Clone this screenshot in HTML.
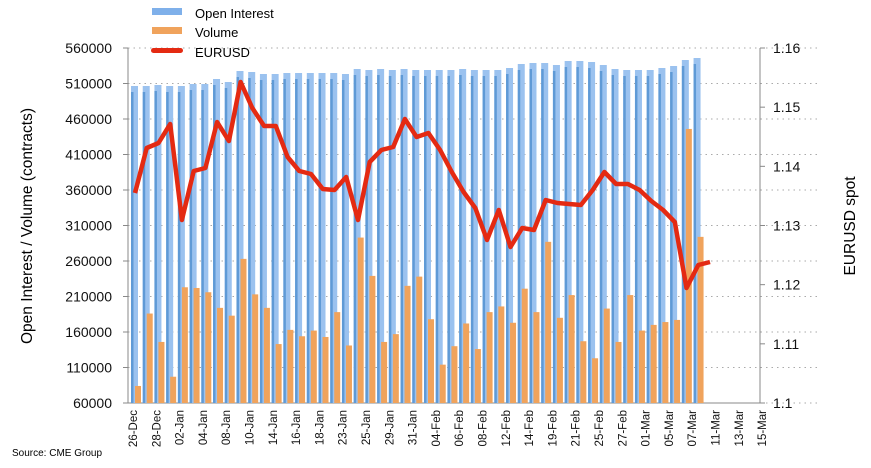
<!DOCTYPE html>
<html><head><meta charset="utf-8"><style>
body{margin:0;background:#fff;}
svg{display:block;font-family:"Liberation Sans",sans-serif;}
</style></head><body>
<svg id="s" width="871" height="468" xmlns="http://www.w3.org/2000/svg"></svg>
<script>
const s=document.getElementById('s');let h='';
const L=128,R=760,T=48,B=403;
const yL=v=>B-(v-60000)/500000*(B-T);
const yR=v=>B-(v-1.10)/0.06*(B-T);
// grid
for(let i=0;i<=10;i++){const y=B-i*(B-T)/10;
 h+=`<line x1="${L}" x2="${R+60}" y1="${y}" y2="${y}" stroke="#aaa" stroke-dasharray="1.5,4" stroke-width="1"/>`;}
h+=`<line x1="${L}" x2="${L}" y1="${T}" y2="${B}" stroke="#888"/>`;
h+=`<line x1="${R}" x2="${R}" y1="${T}" y2="${B}" stroke="#888"/>`;
h+=`<line x1="${L}" x2="${R}" y1="${B}" y2="${B}" stroke="#888"/>`;
for(let i=0;i<=10;i++){const v=60000+i*50000,y=yL(v);
 h+=`<line x1="${L-5}" x2="${L}" y1="${y}" y2="${y}" stroke="#888"/><text x="${L-16}" y="${y+5}" font-size="14" text-anchor="end" fill="#111">${v}</text>`;}
for(let i=0;i<=6;i++){const v=1.1+i*0.01,y=yR(v);
 h+=`<line x1="${R}" x2="${R+5}" y1="${y}" y2="${y}" stroke="#888"/><text x="${R+13}" y="${y+5}" font-size="14" fill="#111">${(v).toFixed(i==0?1:2).replace(/0$/,i==0?'':'0')}</text>`;}
const oiPx=[86,86,85,86,86,84,84,79,82,71,72,74,74,73,73,73,73,73,74,69,70,69,70,69,70,70,70,70,69,70,70,70,68,64,63,63,65,61,61,62,65,69,70,70,70,68,66,60,58,56,59];
const vol=[84000,186000,146000,97000,223000,222000,216000,194000,183000,263000,213000,194000,143000,163000,154000,162000,153000,188000,141000,293000,239000,146000,157000,225000,238000,178000,114000,140000,172000,136000,188000,196000,173000,221000,188000,287000,180000,212000,147000,123000,193000,146000,212000,162000,170000,174000,177000,446000,294000];
const eur=[193,148,143,124,220,171,168,122,141,82,108,126,126,157,171,174,189,190,177,220,162,150,147,119,137,133,150,172,192,208,240,210,247,228,230,200,203,204,205,190,172,184,184,190,201,210,222,288,265,262];
const st=11.72,x0=131;
for(let i=0;i<49;i++){const x=x0+i*st;const y=oiPx[i];
 h+=`<rect x="${x}" y="${y}" width="7" height="${B-y}" fill="#9bc2ef"/>`;
 h+=`<rect x="${x}" y="${y+6}" width="2.5" height="${B-y-6}" fill="#5f9ad6"/>`;}
for(let i=0;i<49;i++){const x=x0+i*st+4;const y=yL(vol[i]);
 h+=`<rect x="${x}" y="${y}" width="6" height="${B-y}" fill="#f0a35c"/>`;}
let p=eur.map((y,i)=>`${(135+i*(575/49)).toFixed(1)},${y}`).join(' ');
h+=`<polyline points="${p}" fill="none" stroke="#e42a12" stroke-width="4.5" stroke-linejoin="round"/>`;
const labs=['26-Dec','28-Dec','02-Jan','04-Jan','08-Jan','10-Jan','14-Jan','16-Jan','18-Jan','23-Jan','25-Jan','29-Jan','31-Jan','04-Feb','06-Feb','08-Feb','12-Feb','14-Feb','19-Feb','21-Feb','25-Feb','27-Feb','01-Mar','05-Mar','07-Mar','11-Mar','13-Mar','15-Mar'];
labs.forEach((l,i)=>{const x=137+i*23.3;h+=`<text transform="translate(${x},${410}) rotate(-90)" font-size="11.5" text-anchor="end" fill="#111">${l}</text>`;});
h+=`<rect x="152" y="8" width="30" height="7" fill="#7fb0ea"/><text x="195" y="18" font-size="13">Open Interest</text>`;
h+=`<rect x="152" y="27" width="30" height="7" fill="#f0a35c"/><text x="195" y="37" font-size="13">Volume</text>`;
h+=`<rect x="151" y="48" width="32" height="5" rx="2.5" fill="#e42a12"/><text x="195" y="57" font-size="13">EURUSD</text>`;
h+=`<text transform="translate(32,226) rotate(-90)" font-size="15.5" text-anchor="middle">Open Interest / Volume (contracts)</text>`;
h+=`<text transform="translate(855,226) rotate(-90)" font-size="15.5" text-anchor="middle">EURUSD spot</text>`;
h+=`<text x="12" y="456" font-size="10">Source: CME Group</text>`;
s.innerHTML=h;
</script>
</body></html>
